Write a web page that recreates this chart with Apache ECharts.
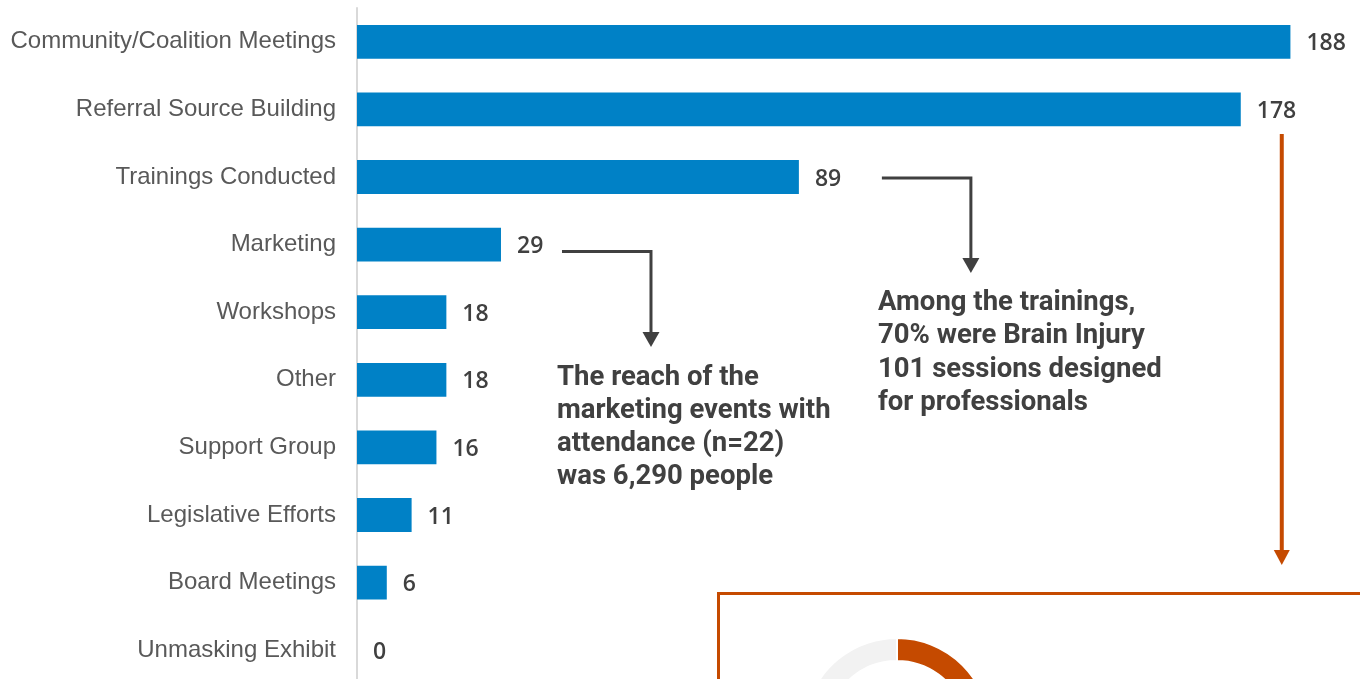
<!DOCTYPE html>
<html>
<head>
<meta charset="utf-8">
<script src="https://cdn.jsdelivr.net/npm/echarts@6/dist/echarts.min.js"></script>
<style>
html,body{margin:0;padding:0;background:#fff;}
#chart{width:1360px;height:679px;}
</style>
</head>
<body>
<div id="chart"></div>
<script>
const categories = ["Community/Coalition Meetings","Referral Source Building","Trainings Conducted","Marketing","Workshops","Other","Support Group","Legislative Efforts","Board Meetings","Unmasking Exhibit"];
const values = [188,178,89,29,18,18,16,11,6,0];
const donutLabels = ["Brain Injury 101","Other trainings"];
const donutValues = [70,30];
const noteMarketing = ["The reach of the","marketing events with","attendance (n=22)","was 6,290 people"];
const noteTrainings = ["Among the trainings,","70% were Brain Injury","101 sessions designed","for professionals"];

const BLUE = "#0081C6", ORANGE = "#C54A00", DARK = "#404040";
const chart = echarts.init(document.getElementById('chart'));
chart.setOption({
  animation:false,
  grid:{left:357, top:8, width:993, height:676, containLabel:false, outerBoundsMode:'none'},
  xAxis:{type:'value', min:0, max:200, show:false},
  yAxis:{type:'category', data:categories, inverse:true,
    axisLine:{show:true, lineStyle:{color:'#D9D9D9', width:2}},
    axisTick:{show:false},
    axisLabel:{margin:21, color:'#595959', fontSize:24, padding:[4,0,0,0], fontFamily:'"Liberation Sans", Arial, sans-serif'}},
  series:[{
    type:'bar', data:values, barWidth:'50%', itemStyle:{color:BLUE},
    label:{show:true, position:'right', distance:16, offset:[0,2], color:DARK, fontSize:23, fontWeight:600, fontFamily:'"Open Sans", sans-serif'},
    silent:true, z:3
  },{
    type:'pie', center:[897,731], radius:[70,93], startAngle:90, clockwise:true,
    data: donutValues.map((v,i)=>({name:donutLabels[i], value:v, itemStyle:{color: i===0?ORANGE:'#F2F2F2'}})),
    itemStyle:{borderColor:'#fff', borderWidth:2},
    label:{show:false}, labelLine:{show:false}, silent:true, z:5
  }]
});

function px(val, cat){ return chart.convertToPixel({gridIndex:0}, [val, cat]); }
const g = [];
function elbow(x0,y0,x1,y1,color,w,ahw,ahh){
  g.push({type:'polyline', shape:{points:[[x0,y0],[x1,y0],[x1,y1-ahh+1]]}, style:{stroke:color, lineWidth:w, fill:null}, silent:true, z:10});
  g.push({type:'polygon', shape:{points:[[x1-ahw/2,y1-ahh],[x1+ahw/2,y1-ahh],[x1,y1]]}, style:{fill:color}, silent:true, z:10});
}
const pM = px(values[3], categories[3]);
elbow(pM[0]+61, pM[1]+7, pM[0]+150, 347, DARK, 3, 17, 15);
const pT = px(values[2], categories[2]);
elbow(pT[0]+83, pT[1]+1, pT[0]+172, 273, DARK, 3, 17, 15);
const pR = px(values[1], categories[1]);
// orange vertical arrow
g.push({type:'line', shape:{x1:pR[0]+41, y1:134, x2:pR[0]+41, y2:552}, style:{stroke:ORANGE, lineWidth:4}, silent:true, z:10});
g.push({type:'polygon', shape:{points:[[pR[0]+33,550],[pR[0]+49,550],[pR[0]+41,565]]}, style:{fill:ORANGE}, silent:true, z:10});
// box
g.push({type:'rect', shape:{x:718.5, y:593.5, width:700, height:200}, style:{fill:'none', stroke:ORANGE, lineWidth:3}, silent:true, z:1});
// notes
const noteFont = {fontSize:27.5, fontWeight:700, fontFamily:'Roboto, sans-serif', fill:DARK, lineHeight:33.3};
g.push({type:'text', x:557, y:361, style:Object.assign({text:noteMarketing.join('\n'), align:'left', verticalAlign:'top'}, noteFont), silent:true, z:10});
g.push({type:'text', x:878, y:286.5, style:Object.assign({text:noteTrainings.join('\n'), align:'left', verticalAlign:'top'}, noteFont), silent:true, z:10});
chart.setOption({graphic:{elements:g}});
</script>
</body>
</html>
